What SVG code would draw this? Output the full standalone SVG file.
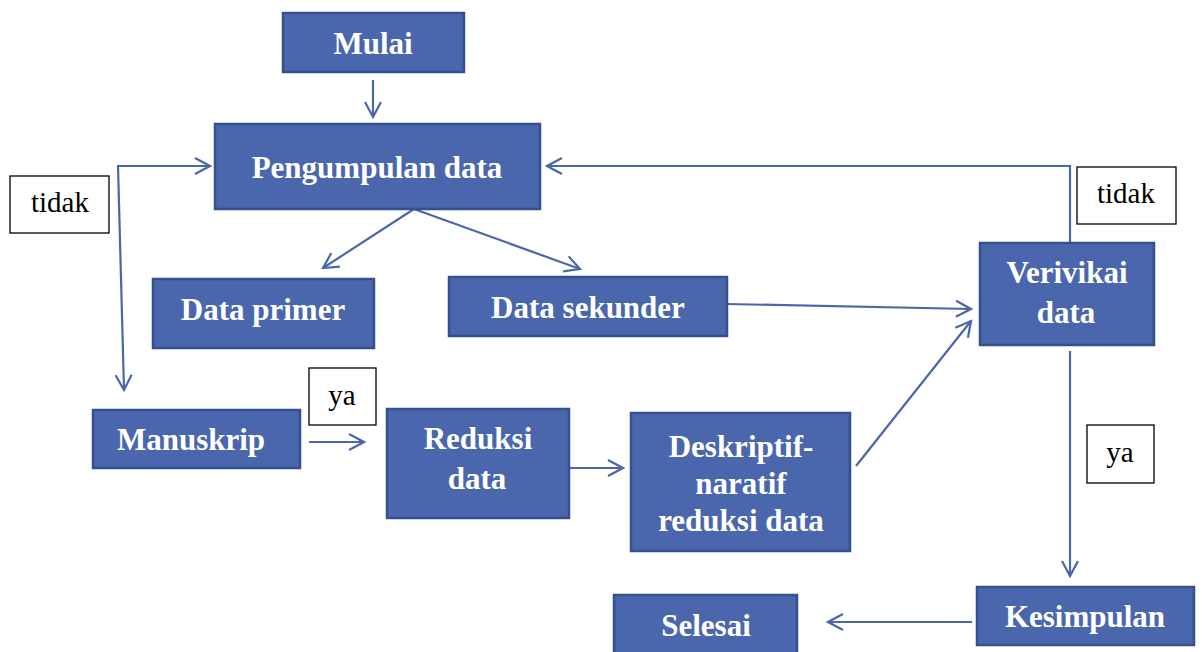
<svg xmlns="http://www.w3.org/2000/svg" width="1202" height="652" viewBox="0 0 1202 652">
<defs>
<marker id="arr" markerUnits="userSpaceOnUse" viewBox="0 0 20 20" refX="18" refY="10" markerWidth="20" markerHeight="20" orient="auto">
<path d="M3,2 L18,10 L3,18" fill="none" stroke="#4A66AC" stroke-width="2.2"/>
</marker>
</defs>
<style>
.n{fill:#4A66AC;stroke:#34508F;stroke-width:2.5}
.t{font-family:"Liberation Serif",serif;font-weight:bold;font-size:31px;fill:#fff;text-anchor:middle}
.lb{fill:#fff;stroke:#000;stroke-width:1.3}
.lt{font-family:"Liberation Serif",serif;font-size:29px;fill:#000;text-anchor:middle}
.c{fill:none;stroke:#4A66AC;stroke-width:2.2}
.ca{fill:none;stroke:#4A66AC;stroke-width:2.2;marker-end:url(#arr)}
</style>
<rect width="1202" height="652" fill="#fff"/>
<g id="connectors">
<line class="ca" x1="373" y1="80" x2="373" y2="117"/>
<line class="ca" x1="118" y1="166" x2="124" y2="390"/>
<line class="ca" x1="117" y1="166" x2="210" y2="166"/>
<polyline class="ca" points="1070,243 1070,166 547,166"/>
<line class="ca" x1="414" y1="209" x2="323" y2="268"/>
<line class="ca" x1="414" y1="209" x2="580" y2="269"/>
<line class="ca" x1="727" y1="304" x2="971" y2="309"/>
<line class="ca" x1="856" y1="466" x2="971" y2="321"/>
<line class="ca" x1="309" y1="442" x2="364" y2="442"/>
<line class="ca" x1="569" y1="468" x2="623" y2="468"/>
<line class="ca" x1="1070" y1="351" x2="1070" y2="576"/>
<line class="ca" x1="972" y1="622" x2="828" y2="622"/>
</g>
<g id="mulai"><rect class="n" x="283" y="13" width="181" height="59"/><text class="t" x="373" y="54">Mulai</text></g>
<g id="pengumpulan"><rect class="n" x="215" y="124" width="325" height="85"/><text class="t" x="377" y="178">Pengumpulan data</text></g>
<g id="label-tidak-left"><rect class="lb" x="10" y="176" width="99" height="57"/><text class="lt" x="60" y="212">tidak</text></g>
<g id="data-primer"><rect class="n" x="153" y="279" width="221" height="69"/><text class="t" x="263" y="320">Data primer</text></g>
<g id="data-sekunder"><rect class="n" x="449" y="277" width="278" height="59"/><text class="t" x="588" y="318">Data sekunder</text></g>
<g id="label-tidak-right"><rect class="lb" x="1077" y="167" width="99" height="57"/><text class="lt" x="1126" y="203">tidak</text></g>
<g id="verivikai"><rect class="n" x="980" y="243" width="174" height="102"/><text class="t" x="1067" y="283">Verivikai</text><text class="t" x="1066" y="323">data</text></g>
<g id="manuskrip"><rect class="n" x="93" y="410" width="207" height="58"/><text class="t" x="191" y="450">Manuskrip</text></g>
<g id="label-ya-left"><rect class="lb" x="309" y="368" width="67" height="57"/><text class="lt" x="342" y="405">ya</text></g>
<g id="reduksi"><rect class="n" x="387" y="409" width="182" height="109"/><text class="t" x="478" y="449">Reduksi</text><text class="t" x="477" y="489">data</text></g>
<g id="deskriptif"><rect class="n" x="631" y="413" width="219" height="138"/><text class="t" x="741" y="457">Deskriptif-</text><text class="t" x="741" y="494">naratif</text><text class="t" x="741" y="531">reduksi data</text></g>
<g id="label-ya-right"><rect class="lb" x="1087" y="425" width="67" height="58"/><text class="lt" x="1120" y="462">ya</text></g>
<g id="kesimpulan"><rect class="n" x="977" y="587" width="217" height="58"/><text class="t" x="1085" y="627">Kesimpulan</text></g>
<g id="selesai"><rect class="n" x="614" y="595" width="183" height="70"/><text class="t" x="706" y="636">Selesai</text></g>
</svg>
